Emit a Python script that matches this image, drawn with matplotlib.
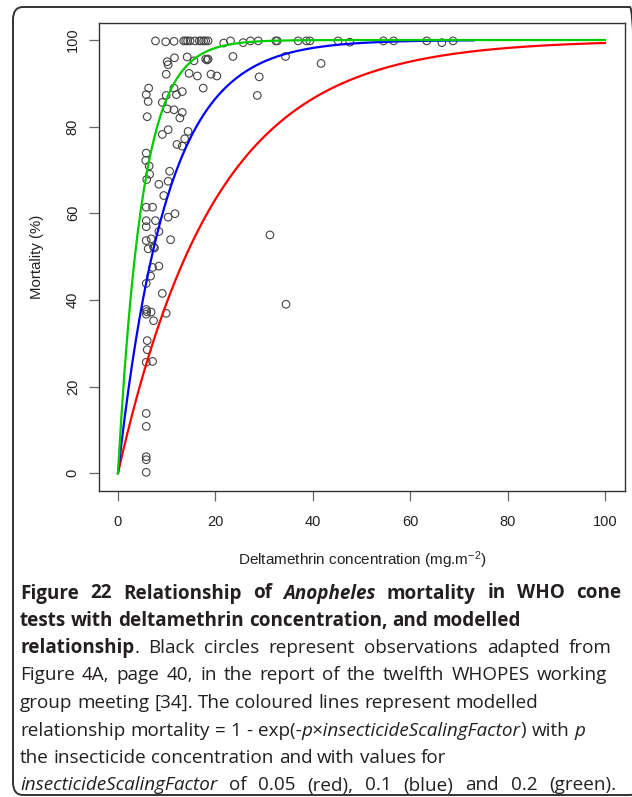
import numpy as np
import matplotlib
matplotlib.use("Agg")
import matplotlib.pyplot as plt
from matplotlib.patches import FancyBboxPatch

# ---------------- data ----------------
obs_x = [7.7, 9.8, 11.5, 13.5, 13.9, 14.3, 14.8, 15.8, 16.7, 17.1, 17.6, 18.0, 18.5,
         21.7, 23.1, 25.7, 27.2, 28.8, 32.4, 32.7, 37.0, 38.7, 39.4, 45.2, 47.6,
         54.5, 56.6, 63.4, 66.5, 68.8,
         23.6, 18.0, 18.5, 18.3, 34.4, 41.7, 19.1, 20.3, 17.5, 29.0, 28.6,
         11.6, 10.1, 10.3, 14.2, 15.6, 9.9, 14.6, 16.3,
         6.3, 5.8, 6.2, 11.5, 12.0, 13.2, 9.9, 9.1,
         10.1, 11.5, 13.2, 12.7, 6.0, 10.3, 9.1,
         14.4, 13.7, 13.2, 12.1,
         5.8, 5.7, 6.4, 6.5, 5.9, 10.6, 10.3, 8.4, 9.4,
         5.8, 7.1, 11.7, 10.3, 5.8, 7.7, 5.8, 8.4,
         5.8, 6.8, 10.8, 6.2, 7.5, 7.3, 7.1, 8.4, 6.7, 5.8, 9.1,
         5.8, 5.8, 6.8, 9.9, 5.9, 7.3, 6.0, 6.0, 5.8, 7.1,
         5.8, 5.8, 5.8, 5.8, 5.8, 31.2, 34.5]
obs_y = [99.8, 99.6, 99.7, 99.8, 99.8, 99.8, 99.8, 99.8, 99.8, 99.8, 99.8, 99.8, 99.8,
         99.3, 99.8, 99.4, 99.8, 99.8, 99.8, 99.8, 99.8, 99.8, 99.8, 99.8, 99.5,
         99.8, 99.8, 99.8, 99.4, 99.8,
         96.2, 95.6, 95.6, 95.4, 96.2, 94.6, 92.1, 91.7, 88.9, 91.5, 87.2,
         95.9, 95.0, 94.3, 96.1, 95.2, 92.1, 92.3, 91.7,
         88.9, 87.4, 85.8, 88.9, 87.4, 88.1, 87.2, 85.6,
         84.1, 83.9, 83.3, 82.0, 82.3, 79.3, 78.2,
         78.9, 77.2, 75.5, 75.9,
         73.9, 72.2, 70.9, 69.0, 67.8, 69.7, 67.4, 66.7, 64.1,
         61.4, 61.4, 59.9, 59.1, 58.3, 58.3, 56.9, 55.8,
         53.7, 54.1, 53.9, 51.8, 52.0, 52.2, 47.5, 47.8, 45.5, 43.8, 41.5,
         37.8, 36.7, 37.2, 36.9, 37.3, 35.2, 30.6, 28.5, 25.6, 25.8,
         13.8, 10.8, 3.8, 3.1, 0.2, 55.0, 39.0]

scaling_factors = [0.05, 0.1, 0.2]
curve_colors = ["#ff0000", "#0000ff", "#00cc00"]
curve_ends = [100, 73, 100]

x_ticks = [0, 20, 40, 60, 80, 100]
y_ticks = [0, 20, 40, 60, 80, 100]
x_label = r"Deltamethrin concentration (mg.m$^{-2}$)"
y_label = "Mortality (%)"

caption_lines = [
    [("Figure 22 Relationship of ", "bold", "normal"), ("Anopheles", "bold", "italic"),
     (" mortality in WHO cone", "bold", "normal")],
    [("tests with deltamethrin concentration, and modelled", "bold", "normal")],
    [("relationship", "bold", "normal"),
     (". Black circles represent observations adapted from", "normal", "normal")],
    [("Figure 4A, page 40, in the report of the twelfth WHOPES working", "normal", "normal")],
    [("group meeting [34]. The coloured lines represent modelled", "normal", "normal")],
    [("relationship mortality = 1 - exp(-", "normal", "normal"),
     ("p\u00d7insecticideScalingFactor", "normal", "italic"),
     (") with ", "normal", "normal"), ("p", "normal", "italic")],
    [("the insecticide concentration and with values for", "normal", "normal")],
    [("insecticideScalingFactor", "normal", "italic"),
     (" of 0.05 (red), 0.1 (blue) and 0.2 (green).", "normal", "normal")],
]
# right end (px) of each caption line in the reference layout
caption_line_ends = [621, 505, 612, 607, 537, 585, 437, 616]

# ---------------- figure ----------------
W, H = 632, 797
plt.rcParams["font.family"] = ["Liberation Sans", "DejaVu Sans"]
plt.rcParams["mathtext.fontset"] = "custom"
plt.rcParams["mathtext.rm"] = "Liberation Sans"
plt.rcParams["mathtext.it"] = "Liberation Sans:italic"

fig = plt.figure(figsize=(W / 100, H / 100), dpi=100)


def px(x, y):
    return x / W, 1 - y / H


# outer rounded frame
frame = FancyBboxPatch(px(13, 795), (640 - 13) / W, (795 - 7) / H,
                       boxstyle="round,pad=0,rounding_size=0.016",
                       transform=fig.transFigure, fill=False,
                       edgecolor="#333333", linewidth=1.4)
fig.patches.append(frame)

ax_l, ax_r, ax_t, ax_b = 98.5, 624.5, 22.7, 490.5
ax = fig.add_axes([ax_l / W, 1 - ax_b / H, (ax_r - ax_l) / W, (ax_b - ax_t) / H])

ax.scatter(obs_x, obs_y, s=30, facecolors="none", edgecolors="#444444",
           linewidths=0.8, zorder=2)
for k, c, e in zip(scaling_factors, curve_colors, curve_ends):
    xx = np.linspace(0, e, 300)
    ax.plot(xx, 100 * (1 - np.exp(-xx * k)), color=c, lw=1.6, zorder=3)

ax.set_xlim(-4, 104)
ax.set_ylim(-4, 104)
ax.set_xticks(x_ticks)
ax.set_yticks(y_ticks)
ax.set_xticklabels([str(v) for v in x_ticks])
ax.set_yticklabels([str(v) for v in y_ticks], rotation=90, va="center")
ax.tick_params(axis="both", direction="out", length=7.5, width=0.9,
               color="#666666", labelsize=10.5, labelcolor="#222222")
ax.tick_params(axis="x", pad=10)
ax.tick_params(axis="y", pad=6)
for sp in ax.spines.values():
    sp.set_color("#333333")
    sp.set_linewidth(1.0)

fig.text(*px(362, 560), x_label, ha="center", va="center", fontsize=11,
         color="#222222")
fig.text(*px(37, 257), y_label, ha="center", va="center", rotation=90,
         fontsize=10.8, color="#222222")

# ---------------- caption ----------------
renderer = fig.canvas.get_renderer()
cap_font = ["Open Sans", "DejaVu Sans"]
cap_size = 13.6
line_y0 = 591
line_dy = 27.5
cap_x0 = 20


def seg_width(txt, weight, style):
    t1 = fig.text(0, 0, txt + "|", family=cap_font, fontsize=cap_size,
                  fontweight=weight, fontstyle=style)
    t2 = fig.text(0, 0, "|", family=cap_font, fontsize=cap_size,
                  fontweight=weight, fontstyle=style)
    w = t1.get_window_extent(renderer).width - t2.get_window_extent(renderer).width
    t1.remove()
    t2.remove()
    return w


for i, (line, x_end) in enumerate(zip(caption_lines, caption_line_ends)):
    items = []
    for txt, weight, style in line:
        parts = txt.split(" ")
        for j, p in enumerate(parts):
            if j > 0:
                items.append(("gap", " ", weight, style, seg_width(" ", weight, style)))
            if p:
                items.append(("word", p, weight, style, seg_width(p, weight, style)))
    natural = sum(it[4] for it in items)
    n_gaps = sum(1 for it in items if it[0] == "gap")
    extra = max(0.0, (x_end - cap_x0) - natural)
    per_gap = extra / n_gaps if n_gaps else 0.0
    x = cap_x0
    y = line_y0 + i * line_dy
    for kind, txt, weight, style, w in items:
        if kind == "word":
            fig.text(*px(x, y), txt, ha="left", va="center_baseline",
                     family=cap_font, fontsize=cap_size, fontweight=weight,
                     fontstyle=style, color="#231f20")
            x += w
        else:
            x += w + per_gap

fig.savefig("out.png", dpi=100)
